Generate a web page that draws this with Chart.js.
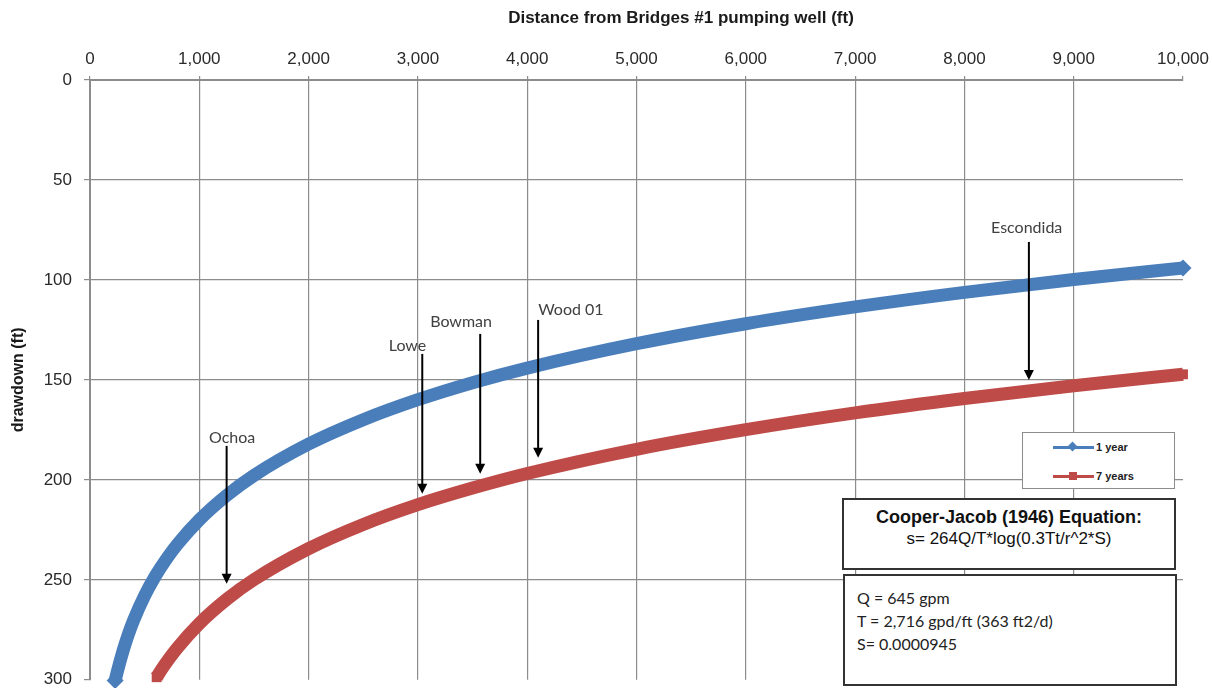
<!DOCTYPE html>
<html>
<head>
<meta charset="utf-8">
<script src="https://cdn.jsdelivr.net/npm/chart.js@4.4.1/dist/chart.umd.min.js"></script>
<style>
  html, body { margin: 0; padding: 0; background: #fff; }
  #wrap { position: relative; width: 1212px; height: 688px; overflow: hidden; }
  canvas { position: absolute; left: 0; top: 0; }
  .box { position: absolute; background: #fff; box-sizing: border-box; }
  #legend { left: 1022px; top: 432px; width: 153px; height: 57px; border: 1px solid #8c8c8c; }
  .lg { position: absolute; left: 30px; height: 14px; font: bold 11px "Liberation Sans", Arial, sans-serif; color: #222; }
  .lg .ln { position: absolute; left: 0; top: 6px; width: 41px; height: 3px; }
  .lg .mk { position: absolute; }
  .lg .tx { position: absolute; left: 43px; top: 0; white-space: nowrap; line-height: 14px; }
  #eq { left: 842px; top: 498px; width: 334px; height: 72px; border: 2px solid #333; text-align: center; font-family: "Liberation Sans", Arial, sans-serif; color: #111; }
  #eq .l1 { position: absolute; left: 0; right: 0; top: 6px; font-weight: bold; font-size: 18px; line-height: 22px; }
  #eq .l2 { position: absolute; left: 0; right: 0; top: 28px; font-size: 17px; line-height: 22px; }
  #par { left: 843px; top: 574px; width: 334px; height: 112px; border: 2px solid #333; font-family: Lato, "Open Sans", sans-serif; font-size: 16px; color: #222; }
  #par div { position: absolute; left: 12px; white-space: nowrap; line-height: 20px; }
</style>
</head>
<body>
<div id="wrap">
  <canvas id="c" width="1212" height="688"></canvas>
  <div class="box" id="legend">
    <div class="lg" style="top:7px;"><span class="ln" style="background:#4a7ebb"></span><span class="mk" style="left:16px;top:3px;width:7px;height:7px;background:#4a7ebb;transform:rotate(45deg)"></span><span class="tx">1 year</span></div>
    <div class="lg" style="top:36px;"><span class="ln" style="background:#be4b48"></span><span class="mk" style="left:16px;top:3px;width:8px;height:8px;background:#be4b48"></span><span class="tx">7 years</span></div>
  </div>
  <div class="box" id="eq">
    <div class="l1">Cooper-Jacob (1946) Equation:</div>
    <div class="l2">s= 264Q/T*log(0.3Tt/r^2*S)</div>
  </div>
  <div class="box" id="par">
    <div style="top:12px;">Q = 645 gpm</div>
    <div style="top:35px;">T = 2,716 gpd/ft (363 ft2/d)</div>
    <div style="top:58px;">S= 0.0000945</div>
  </div>
</div>
<script>
// ---- data ----
const xTitle = 'Distance from Bridges #1 pumping well (ft)';
const yTitle = 'drawdown (ft)';
const seriesNames = ['1 year', '7 years'];

const dist1yr = [230, 250, 300, 350, 400, 500, 600, 700, 800, 1000, 1250, 1500, 2000, 2500, 3000, 3500, 4000, 5000, 6000, 7000, 8000, 9000, 10000];
const draw1yr = [300.4, 295.9, 285.9, 277.4, 270.1, 257.9, 247.9, 239.5, 232.2, 220, 207.8, 197.8, 182.1, 169.9, 159.9, 151.4, 144.1, 131.9, 121.9, 113.5, 106.2, 99.8, 94];

const dist7yr = [610, 650, 700, 800, 1000, 1250, 1500, 2000, 2500, 3000, 3500, 4000, 5000, 6000, 7000, 8000, 9000, 10000];
const draw7yr = [298.7, 295.2, 291.2, 284.0, 271.9, 259.8, 249.9, 234.4, 222.3, 212.4, 204.1, 196.8, 184.7, 174.9, 166.5, 159.3, 152.9, 147.2];

const wellNames  = ['Ochoa', 'Lowe', 'Bowman', 'Wood 01', 'Escondida'];
const wellDist   = [1250, 3040, 3570, 4100, 8590];
const arrowFrom  = [183, 137, 127, 120, 81];
const arrowTo    = [252, 207, 197, 189, 150];
const labelDist  = [1300, 2905, 3395, 4400, 8570];
const labelDepth = [179, 133, 121, 115, 74];

const xTicksMax = 10000, xStep = 1000;
const yTicksMax = 300, yStep = 50;

const toPts = (xs, ys) => xs.map((x, i) => ({ x: x, y: ys[i] }));

const annotPlugin = {
  id: 'annot',
  afterDatasetsDraw(chart) {
    const ctx = chart.ctx, xs = chart.scales.x, ys = chart.scales.y;
    ctx.save();
    for (let i = 0; i < wellNames.length; i++) {
      const px = xs.getPixelForValue(wellDist[i]);
      const y0 = ys.getPixelForValue(arrowFrom[i]);
      const y1 = ys.getPixelForValue(arrowTo[i]);
      ctx.strokeStyle = '#000'; ctx.lineWidth = 2;
      ctx.beginPath(); ctx.moveTo(px, y0); ctx.lineTo(px, y1 - 9); ctx.stroke();
      ctx.fillStyle = '#000';
      ctx.beginPath(); ctx.moveTo(px - 5, y1 - 10); ctx.lineTo(px + 5, y1 - 10); ctx.lineTo(px, y1); ctx.closePath(); ctx.fill();
      ctx.font = '16px Lato, "Open Sans", sans-serif';
      ctx.fillStyle = '#404040'; ctx.textAlign = 'center'; ctx.textBaseline = 'middle';
      ctx.fillText(wellNames[i], xs.getPixelForValue(labelDist[i]), ys.getPixelForValue(labelDepth[i]));
    }
    ctx.restore();
  },
  afterDraw(chart) {
    const ctx = chart.ctx;
    ctx.save();
    ctx.fillStyle = '#1a1a1a';
    ctx.font = 'bold 17px "Liberation Sans", Arial, sans-serif';
    ctx.textAlign = 'center'; ctx.textBaseline = 'middle';
    ctx.fillText(xTitle, 681, 18);
    ctx.translate(19, chart.chartArea.top + (chart.chartArea.bottom - chart.chartArea.top) / 2);
    ctx.rotate(-Math.PI / 2);
    ctx.font = 'bold 16px "Liberation Sans", Arial, sans-serif';
    ctx.fillText(yTitle, 0, 0);
    ctx.restore();
  }
};

const endRadius = (r) => (c) => (c.dataIndex === 0 || c.dataIndex === c.dataset.data.length - 1) ? r : 0;

function makeConfig() {
  return {
    type: 'line',
    data: {
      datasets: [
        { label: seriesNames[0], data: toPts(dist1yr, draw1yr), borderColor: '#4a7ebb', backgroundColor: '#4a7ebb',
          borderWidth: 13, cubicInterpolationMode: 'monotone', pointStyle: 'rectRot', pointRadius: endRadius(8.5),
          pointBorderWidth: 0, clip: false, borderCapStyle: 'butt' },
        { label: seriesNames[1], data: toPts(dist7yr, draw7yr), borderColor: '#be4b48', backgroundColor: '#be4b48',
          borderWidth: 13, cubicInterpolationMode: 'monotone', pointStyle: 'rect', pointRadius: endRadius(7),
          pointBorderWidth: 0, clip: false, borderCapStyle: 'butt' }
      ]
    },
    options: {
      responsive: false,
      animation: false,
      layout: { padding: { left: 0, right: 29, top: 0, bottom: 8 } },
      plugins: { legend: { display: false }, tooltip: { enabled: false } },
      scales: {
        x: {
          type: 'linear', position: 'top', min: 0, max: xTicksMax,
          afterFit: (s) => { s.height = 80; },
          ticks: { stepSize: xStep, padding: 6, color: '#2a2a2a', font: { family: '"Liberation Sans", Arial, sans-serif', size: 17 },
                   callback: (v) => v.toLocaleString('en-US') },
          grid: { color: (c) => (c.tick && (c.tick.value === 0 || c.tick.value === xTicksMax)) ? 'rgba(0,0,0,0)' : '#8c8c8c',
                  tickColor: '#8c8c8c', tickLength: 4, lineWidth: 1.2 },
          border: { color: '#8c8c8c', width: 2 }
        },
        y: {
          type: 'linear', reverse: true, min: 0, max: yTicksMax,
          afterFit: (s) => { s.width = 90; },
          ticks: { stepSize: yStep, padding: 12, color: '#2a2a2a', font: { family: '"Liberation Sans", Arial, sans-serif', size: 17 } },
          grid: { color: (c) => (c.tick && (c.tick.value === 0 || c.tick.value === yTicksMax)) ? 'rgba(0,0,0,0)' : '#8c8c8c',
                  tickColor: '#8c8c8c', tickLength: 6, lineWidth: 1.2 },
          border: { color: '#8c8c8c', width: 2 }
        }
      }
    },
    plugins: [annotPlugin]
  };
}

const canvas = document.getElementById('c');
function build(w, h) {
  canvas.width = w; canvas.height = h;
  canvas.style.width = w + 'px'; canvas.style.height = h + 'px';
  return new Chart(canvas, makeConfig());
}
let chart = build(1212, 688);
// the scales reserve label padding beyond the layout padding; enlarge the (clipped) canvas so the plot area lands where the reference has it
const dw = Math.round(1183 - chart.chartArea.right);
const dh = Math.round(680 - chart.chartArea.bottom);
if (dw !== 0 || dh !== 0) {
  chart.destroy();
  chart = build(1212 + dw, 688 + dh);
}
</script>
</body>
</html>
